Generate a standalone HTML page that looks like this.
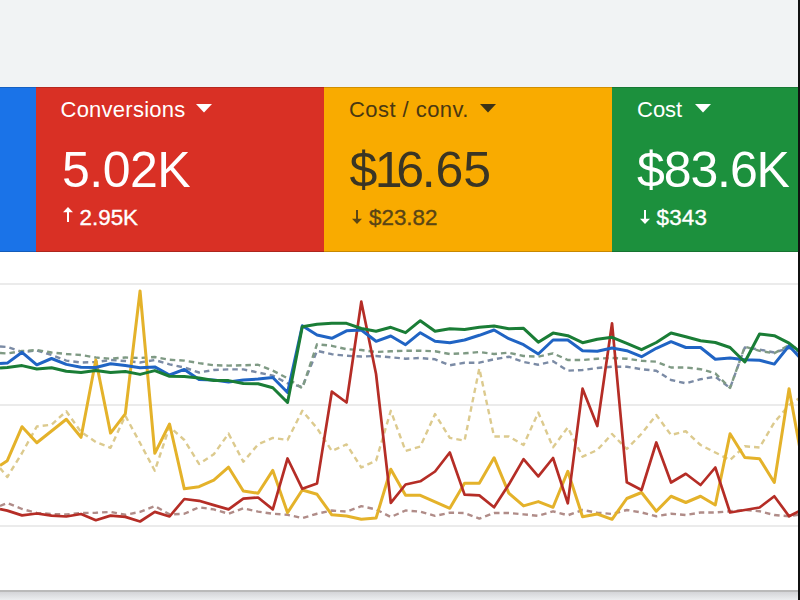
<!DOCTYPE html>
<html><head><meta charset="utf-8">
<style>
*{margin:0;padding:0;box-sizing:border-box}
html,body{width:800px;height:600px;overflow:hidden;background:#f1f3f4;font-family:"Liberation Sans",Arial,sans-serif}
.card{position:absolute;top:86.5px;height:165px;overflow:hidden;box-shadow:inset 0 1px 0 rgba(0,0,0,.16),inset 0 -1px 0 rgba(0,0,0,.2)}
.card .t{position:absolute;top:12px;font-size:22px;white-space:nowrap;line-height:1}
.card .v{position:absolute;top:58px;font-size:50px;white-space:nowrap;line-height:1}
.card .d{position:absolute;top:120px;font-size:22.4px;-webkit-text-stroke:0.35px currentColor;white-space:nowrap;line-height:1}
.card svg{position:absolute}
#blue{left:-252px;width:288px;background:#1a73e8}
#red{left:36px;width:287.5px;background:#d93025;color:#fff}
#orange{left:323.5px;width:288px;background:#f9ab00;color:#3a3524}
#green{left:611.5px;width:288px;background:#1c903d;color:#fff}
#chart{position:absolute;left:0;top:251.5px;width:800px;height:339px;background:#fff}
.grid{position:absolute;left:0;width:800px;height:2px;background:#ebebeb}
#bottomline{position:absolute;left:0;top:590px;width:800px;height:1.5px;background:#bababa}
#bottomshadow{position:absolute;left:0;top:591.5px;width:800px;height:8.5px;background:linear-gradient(#d4d5d8,#eceef0)}
#rightedge{position:absolute;left:798.3px;top:0;width:2px;height:600px;background:#111}
</style></head><body>
<div class="card" id="blue"></div>
<div class="card" id="red">
  <div class="t" style="left:24.5px;letter-spacing:0.25px">Conversions</div>
  <svg style="left:159.8px;top:17.8px" width="16" height="9" viewBox="0 0 16 9"><path d="M0 0H16L8 8.4Z" fill="#fff"/></svg>
  <div class="v" style="left:26px;letter-spacing:-0.5px">5.02K</div>
  <svg style="left:27.4px;top:120.5px" width="10" height="15" viewBox="0 0 10 15"><path d="M5 0L10 5.3H6V15H4V5.3H0Z" fill="#fff"/></svg>
  <div class="d" style="left:43.5px">2.95K</div>
</div>
<div class="card" id="orange">
  <div class="t" style="left:25.5px;letter-spacing:0.45px;color:#4a3812">Cost / conv.</div>
  <svg style="left:156.8px;top:17.8px" width="16" height="9" viewBox="0 0 16 9"><path d="M0 0H16L8 8.4Z" fill="#3d3316"/></svg>
  <div class="v" style="left:26px"><span style="letter-spacing:-2.6px">$</span><span style="letter-spacing:-6.4px">1</span><span style="letter-spacing:-2.3px">6</span>.65</div>
  <svg style="left:28.4px;top:123px" width="10" height="14" viewBox="0 0 10 14"><path d="M5 14L10 8.7H6V0H4V8.7H0Z" fill="#5a4515"/></svg>
  <div class="d" style="left:45.5px;color:#5a4515">$23.82</div>
</div>
<div class="card" id="green">
  <div class="t" style="left:25.5px">Cost</div>
  <svg style="left:83px;top:17.8px" width="16" height="9" viewBox="0 0 16 9"><path d="M0 0H16L8 8.4Z" fill="#fff"/></svg>
  <div class="v" style="left:25.5px;letter-spacing:-1.1px">$83.6K</div>
  <svg style="left:28.2px;top:123px" width="10" height="14" viewBox="0 0 10 14"><path d="M5 14L10 8.7H6V0H4V8.7H0Z" fill="#fff"/></svg>
  <div class="d" style="left:45px;letter-spacing:0.2px">$343</div>
</div>
<div id="chart"></div>
<div class="grid" style="top:283px"></div>
<div class="grid" style="top:404px"></div>
<div class="grid" style="top:525px"></div>
<!--CHART-->
<svg id="chart-svg" width="800" height="600" viewBox="0 0 800 600" style="position:absolute;left:0;top:0">
<g fill="none" stroke-linejoin="round" stroke-linecap="butt">
<polyline stroke="#b08c88" stroke-width="2.4" stroke-dasharray="5.5 4" points="0,506 7.3,503 22.05,509 36.8,513 51.55,514 66.3,514.5 81.05,513 95.8,512.8 110.55,511.9 125.3,514.75 140.05,511.9 154.8,506 169.55,514.4 184.3,513.75 199.05,507.3 213.8,509.4 228.55,513.75 243.3,508.3 258.05,511.6 272.8,513.75 287.55,514.8 302.3,518.1 317.05,513.75 331.8,510.5 346.55,511.6 361.3,506.2 376.05,509.4 390.8,517 405.55,510.5 420.3,511.6 435.05,515.9 449.8,512.7 464.55,513 479.3,518.6 494.05,513 508.8,513 523.55,514.4 538.3,515.8 553.05,511.3 567.8,515.3 582.55,510 597.3,512.7 612.05,514 626.8,510 641.55,512.5 656.3,516.25 671.05,513.75 685.8,515 700.55,512.5 715.3,512.5 730.05,511.25 744.8,510 759.55,511.25 774.3,515 789.05,516.25 803.8,514"/>
<polyline stroke="#dcca8e" stroke-width="2.4" stroke-dasharray="5.5 4" points="0,468 7.3,477 22.05,453 36.8,426.5 51.55,424.7 66.3,411.3 81.05,432 95.8,442 110.55,447.8 125.3,415.7 140.05,443 154.8,470.7 169.55,426.7 184.3,440 199.05,463.9 213.8,454.2 228.55,433.6 243.3,461.8 258.05,444.4 272.8,437.9 287.55,440 302.3,410.8 317.05,428.2 331.8,450.9 346.55,444.4 361.3,467.5 376.05,460.7 390.8,410.8 405.55,450.9 420.3,446.6 435.05,414.1 449.8,437.9 464.55,440.7 479.3,368.5 494.05,436.5 508.8,436.5 523.55,445 538.3,412.5 553.05,447.3 567.8,427.3 582.55,456.7 597.3,450 612.05,434 626.8,449 641.55,433.75 656.3,415 671.05,435 685.8,431.25 700.55,445 715.3,452.5 730.05,460 744.8,446.25 759.55,447.5 774.3,422.5 789.05,405 803.8,395"/>
<polyline stroke="#7b8ba5" stroke-width="2.4" stroke-dasharray="5.5 4" points="0,346.5 7.3,347 22.05,352 36.8,350.5 51.55,355 66.3,360.6 81.05,362.5 95.8,362 110.55,360 125.3,361 140.05,362.5 154.8,360 169.55,364.4 184.3,367.5 199.05,372.5 213.8,370 228.55,369.4 243.3,369.4 258.05,372.5 272.8,375.6 287.55,383.3 302.3,387 317.05,350.8 331.8,354.2 346.55,355.8 361.3,356.5 376.05,356 390.8,357.3 405.55,358.7 420.3,358 435.05,359.3 449.8,365.3 464.55,362.7 479.3,362.7 494.05,359.3 508.8,356.7 523.55,362 538.3,364.7 553.05,361.3 567.8,370.7 582.55,370 597.3,368 612.05,366.7 626.8,366.7 641.55,369.2 656.3,370.8 671.05,380 685.8,383.3 700.55,379.2 715.3,376.7 730.05,388 744.8,347.5 759.55,349.5 774.3,352.5 789.05,348 803.8,354"/>
<polyline stroke="#7f9a84" stroke-width="2.4" stroke-dasharray="5.5 4" points="0,353 7.3,353.5 22.05,351 36.8,350 51.55,352.5 66.3,354 81.05,355 95.8,357.5 110.55,358.75 125.3,357.5 140.05,358 154.8,357 169.55,359.75 184.3,360.6 199.05,363.1 213.8,365.25 228.55,365.6 243.3,365.25 258.05,364.75 272.8,370.6 287.55,378.3 302.3,388.3 317.05,344.2 331.8,345.8 346.55,349.2 361.3,350 376.05,352 390.8,351.3 405.55,350.7 420.3,350.7 435.05,351.3 449.8,354 464.55,353.3 479.3,352 494.05,354 508.8,352.7 523.55,356 538.3,356.7 553.05,353.3 567.8,360 582.55,360 597.3,358.7 612.05,358 626.8,358.7 641.55,360.8 656.3,361.7 671.05,367.5 685.8,367.5 700.55,369.2 715.3,373.3 730.05,388 744.8,346.7 759.55,350.8 774.3,353.3 789.05,345 803.8,352"/>
<polyline stroke="#e4b22a" stroke-width="3" points="0,465.5 7.3,460.7 22.05,426.7 36.8,442.7 51.55,431 66.3,419.3 81.05,437.3 95.8,360 110.55,433.1 125.3,413.9 140.05,291 154.8,453.3 169.55,424 184.3,488.8 199.05,486.7 213.8,480.2 228.55,467.2 243.3,491 258.05,493.2 272.8,470.4 287.55,512.7 302.3,490 317.05,494.3 331.8,514.8 346.55,516 361.3,519.2 376.05,518.1 390.8,469.3 405.55,495.3 420.3,495.3 435.05,501.8 449.8,508.3 464.55,483.2 479.3,483.2 494.05,457.7 508.8,493.1 523.55,505.9 538.3,501.6 553.05,507.3 567.8,471.3 582.55,516.7 597.3,514 612.05,519.3 626.8,498.5 641.55,492.5 656.3,511.25 671.05,496.25 685.8,502.5 700.55,496.25 715.3,505 730.05,433.75 744.8,457.5 759.55,458.75 774.3,482.5 789.05,388.75 803.8,470"/>
<polyline stroke="#b52d26" stroke-width="2.7" points="0,509 7.3,510.6 22.05,515.4 36.8,513.5 51.55,515.6 66.3,516.5 81.05,514 95.8,520.25 110.55,515.6 125.3,516.9 140.05,521.5 154.8,511.9 169.55,516.5 184.3,499 199.05,500.8 213.8,505.1 228.55,509.4 243.3,498.6 258.05,497.5 272.8,509.4 287.55,458.5 302.3,488.8 317.05,483.4 331.8,391.7 346.55,402.5 361.3,301.7 376.05,374 390.8,502.9 405.55,484.5 420.3,481.3 435.05,471.5 449.8,452.5 464.55,494.6 479.3,495.4 494.05,507.3 508.8,484.6 523.55,459.1 538.3,476.4 553.05,458 567.8,503.3 582.55,388.7 597.3,426 612.05,323.3 626.8,482.3 641.55,490 656.3,442.5 671.05,482.5 685.8,473.75 700.55,485 715.3,467.5 730.05,512.5 744.8,510 759.55,507.5 774.3,496.25 789.05,516.25 803.8,509"/>
<polyline stroke="#2064c4" stroke-width="3" points="0,363.5 7.3,363.1 22.05,352.3 36.8,364.8 51.55,358.5 66.3,364.4 81.05,367.3 95.8,367.5 110.55,363.75 125.3,365.6 140.05,367.75 154.8,366.9 169.55,375 184.3,369.4 199.05,379.4 213.8,380 228.55,381.9 243.3,380 258.05,379 272.8,377.5 287.55,392.5 302.3,325.8 317.05,335 331.8,338.3 346.55,330.8 361.3,330 376.05,341.3 390.8,336 405.55,344.7 420.3,332.7 435.05,341.3 449.8,342.7 464.55,340 479.3,335.3 494.05,330 508.8,338.7 523.55,344.7 538.3,354 553.05,340 567.8,340 582.55,350.7 597.3,351.3 612.05,348 626.8,350.7 641.55,356.7 656.3,348.3 671.05,341.7 685.8,347.5 700.55,347.5 715.3,359.2 730.05,358 744.8,359.7 759.55,360.2 774.3,364.1 789.05,345.7 803.8,362"/>
<polyline stroke="#1a7d36" stroke-width="3" points="0,368.1 7.3,367.5 22.05,365.6 36.8,369 51.55,367.8 66.3,371.3 81.05,372.5 95.8,370.4 110.55,372.5 125.3,371.5 140.05,374.4 154.8,370.6 169.55,376.25 184.3,376.5 199.05,378.1 213.8,380.6 228.55,380.6 243.3,383.5 258.05,383.75 272.8,387.8 287.55,402.5 302.3,326.7 317.05,324.2 331.8,323.3 346.55,323.3 361.3,328.5 376.05,331.3 390.8,327.3 405.55,332.7 420.3,320.7 435.05,331.3 449.8,328.7 464.55,329.6 479.3,327.3 494.05,326 508.8,328.7 523.55,328.3 538.3,342.2 553.05,333.1 567.8,335.7 582.55,342.7 597.3,339.3 612.05,337.3 626.8,343.3 641.55,349.7 656.3,342.5 671.05,333 685.8,336.7 700.55,340.8 715.3,342.5 730.05,347.5 744.8,362 759.55,334 774.3,335.7 789.05,343.1 803.8,355"/>
</g></svg>
<!--/CHART-->
<div id="bottomline"></div>
<div id="bottomshadow"></div>
<div id="rightedge"></div>
</body></html>
